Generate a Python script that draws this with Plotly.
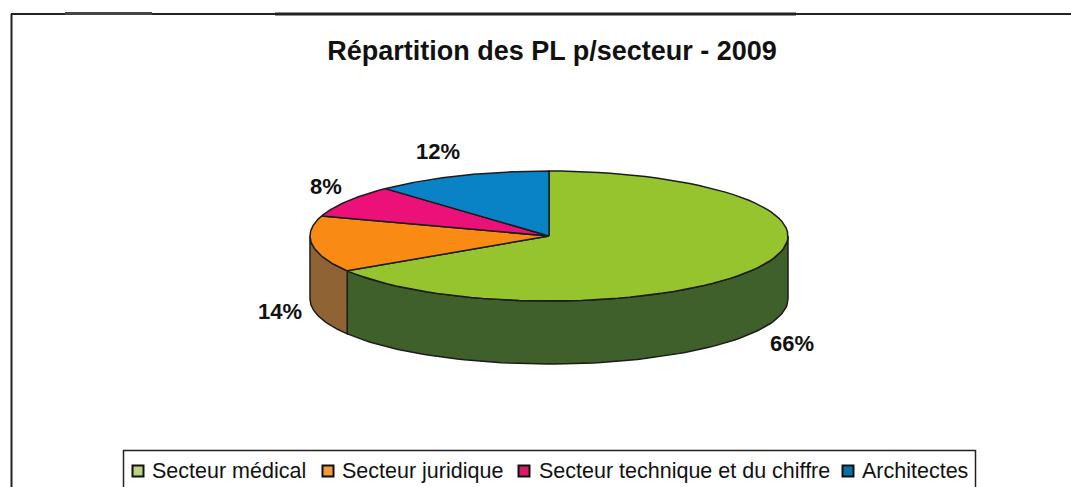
import math
import plotly.graph_objects as go

categories = ["Secteur médical", "Secteur juridique", "Secteur technique et du chiffre", "Architectes"]
shares = [66, 14, 8, 12]
top_colors = ["#96c42e", "#f98a14", "#ec1178", "#0a83c6"]
side_colors = ["#3f5f2b", "#8f6334", "#7a1040", "#054a70"]
swatch_colors = ["#bcd27e", "#f39a3c", "#d81a66", "#0a70a8"]
title_text = "Répartition des PL p/secteur - 2009"

W, H = 1071, 487
CX, CY, RX, RY, DEPTH = 549, 236, 239, 65, 63
OUT = "#1c1c1c"
FONT = "Liberation Sans"

def pt(frac, dy=0):
    a = 2 * math.pi * frac
    return CX + RX * math.sin(a), CY - RY * math.cos(a) + dy

def arc(f0, f1, dy=0, n=80):
    pts = [pt(f0 + (f1 - f0) * i / n, dy) for i in range(n + 1)]
    return [p[0] for p in pts], [p[1] for p in pts]

fig = go.Figure()
total = sum(shares)
bounds = [0]
for v in shares:
    bounds.append(bounds[-1] + v / total)

# visible sides: front half of the ellipse, fractions 0.25 .. 0.75
for i in range(len(shares)):
    f0, f1 = max(bounds[i], 0.25), min(bounds[i + 1], 0.75)
    if f1 <= f0:
        continue
    xa, ya = arc(f0, f1)
    xb, yb = arc(f1, f0, DEPTH)
    fig.add_trace(go.Scatter(x=xa + xb + xa[:1], y=ya + yb + ya[:1], mode="lines", fill="toself",
                             fillcolor=side_colors[i], line=dict(color=OUT, width=1.5),
                             showlegend=False, hoverinfo="skip"))

# top faces
for i in range(len(shares)):
    xa, ya = arc(bounds[i], bounds[i + 1])
    fig.add_trace(go.Scatter(x=[CX] + xa + [CX], y=[CY] + ya + [CY], mode="lines", fill="toself",
                             fillcolor=top_colors[i], line=dict(color=OUT, width=1.5),
                             showlegend=False, hoverinfo="skip", name=categories[i]))

# percentage labels around the pie
label_pos = [(792, 343), (280, 311), (326, 186), (438, 151)]
for v, (lx, ly) in zip(shares, label_pos):
    fig.add_annotation(x=lx, y=ly, text=f"<b>{v}%</b>", showarrow=False,
                       font=dict(family=FONT, size=22, color="#111111"))

# legend box: swatch and text positions of the reference's tight layout
legend_swatch_x = [138, 328, 524, 848]
legend_text_x = [150, 340, 537, 860]
LEG_Y = 471
fig.add_trace(go.Scatter(x=legend_swatch_x, y=[LEG_Y] * 4, mode="markers", showlegend=False, hoverinfo="skip",
                         marker=dict(symbol="square", size=11, color=swatch_colors,
                                     line=dict(color="#111111", width=2))))
for name, tx in zip(categories, legend_text_x):
    fig.add_annotation(x=tx, y=LEG_Y, text=name, showarrow=False, xanchor="left",
                       font=dict(family=FONT, size=21.5, color="#111111"))

frame = dict(color="#222222", width=2)
shapes = [
    dict(type="line", x0=11, x1=W, y0=14, y1=14, line=frame),
    dict(type="line", x0=275, x1=796, y0=14, y1=14, line=dict(color="#222222", width=3)),
    dict(type="line", x0=65, x1=152, y0=13.5, y1=13.5, line=dict(color="#444444", width=3)),
    dict(type="line", x0=11.5, x1=11.5, y0=14, y1=H, line=frame),
    dict(type="rect", x0=123.5, x1=975.5, y0=450.5, y1=H + 3, line=dict(color="#222222", width=1.5),
         fillcolor="rgba(0,0,0,0)"),
]

fig.update_layout(
    width=W, height=H, margin=dict(l=0, r=0, t=0, b=0),
    paper_bgcolor="white", plot_bgcolor="white",
    xaxis=dict(range=[0, W], visible=False, fixedrange=True),
    yaxis=dict(range=[H, 0], visible=False, fixedrange=True),
    shapes=shapes,
    showlegend=False,
    title=dict(text=f"<b>{title_text}</b>", x=552 / W, xanchor="center", y=1 - 51 / H, yanchor="middle",
               font=dict(family=FONT, size=27, color="#111111")),
)
fig.write_html("out.html", config={"displayModeBar": False},
               post_script="document.body.style.margin='0';document.body.style.overflow='hidden';")
